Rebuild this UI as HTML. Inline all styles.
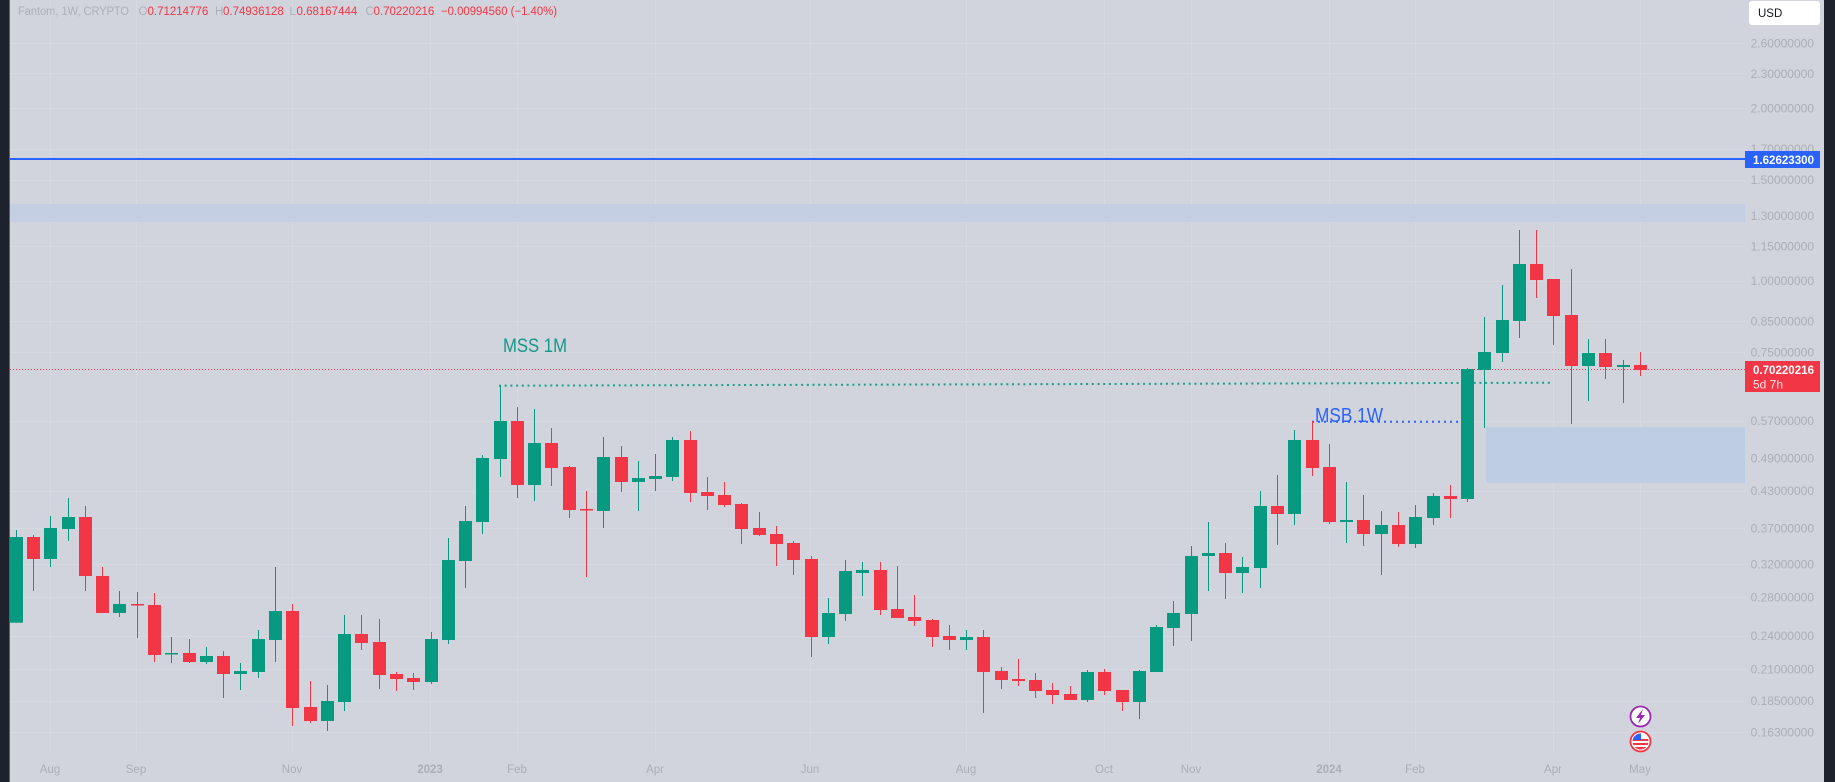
<!DOCTYPE html>
<html><head><meta charset="utf-8"><style>
html,body{margin:0;padding:0;background:#d1d4dc;}
svg{display:block;}
text{font-family:"Liberation Sans",sans-serif;}
.g{fill:#089981}.r{fill:#f23645}
.pl{font-size:12px;fill:#abaeb7;text-anchor:end}
.xl{font-size:11.5px;fill:#abaeb7;text-anchor:middle}
</style></head><body>
<svg width="1835" height="782" viewBox="0 0 1835 782" xmlns="http://www.w3.org/2000/svg">
<rect x="0" y="0" width="1835" height="782" fill="#d1d4dc"/>
<!-- grid -->
<g fill="#d6d9e0">
<rect x="10" y="43" width="1735" height="1"/><rect x="10" y="73" width="1735" height="1"/><rect x="10" y="108" width="1735" height="1"/><rect x="10" y="149" width="1735" height="1"/><rect x="10" y="180" width="1735" height="1"/><rect x="10" y="246" width="1735" height="1"/><rect x="10" y="281" width="1735" height="1"/><rect x="10" y="321" width="1735" height="1"/><rect x="10" y="352" width="1735" height="1"/><rect x="10" y="421" width="1735" height="1"/><rect x="10" y="491" width="1735" height="1"/><rect x="10" y="528" width="1735" height="1"/><rect x="10" y="564" width="1735" height="1"/><rect x="10" y="597" width="1735" height="1"/><rect x="10" y="636" width="1735" height="1"/><rect x="10" y="669" width="1735" height="1"/><rect x="10" y="701" width="1735" height="1"/><rect x="10" y="732" width="1735" height="1"/>
<rect x="50" y="0" width="1" height="752"/><rect x="136" y="0" width="1" height="752"/><rect x="292" y="0" width="1" height="752"/><rect x="430" y="0" width="1" height="752"/><rect x="517" y="0" width="1" height="752"/><rect x="655" y="0" width="1" height="752"/><rect x="810" y="0" width="1" height="752"/><rect x="966" y="0" width="1" height="752"/><rect x="1104" y="0" width="1" height="752"/><rect x="1191" y="0" width="1" height="752"/><rect x="1329" y="0" width="1" height="752"/><rect x="1415" y="0" width="1" height="752"/><rect x="1553" y="0" width="1" height="752"/><rect x="1640" y="0" width="1" height="752"/>
</g>
<!-- zones -->
<rect x="10" y="204" width="1735" height="18" fill="#c4cfe3"/>
<rect x="1486" y="427" width="259" height="56" fill="#bfcde4"/>
<!-- blue horizontal line -->
<rect x="10" y="158" width="1735" height="2" fill="#2962ff"/>
<!-- current price dotted line -->
<line x1="10" y1="369.5" x2="1745" y2="369.5" stroke="#f23645" stroke-width="1" stroke-dasharray="1 2"/>
<!-- MSS green dotted line -->
<line x1="499" y1="385.7" x2="1552" y2="382.7" stroke="#14a08a" stroke-width="2" stroke-dasharray="2 3.7"/>
<!-- MSB blue dotted line -->
<line x1="1312" y1="421.7" x2="1458" y2="421.7" stroke="#2962ff" stroke-width="2" stroke-dasharray="2 4"/>
<!-- candles -->
<g>
<rect class="g" x="16" y="530" width="1" height="92.7"/><rect class="g" x="10" y="537" width="13" height="85.7"/>
<rect class="r" x="33" y="535" width="1" height="56"/><rect class="r" x="27" y="537" width="13" height="22"/>
<rect class="g" x="50" y="516" width="1" height="51"/><rect class="g" x="44" y="528" width="13" height="31"/>
<rect class="g" x="68" y="498" width="1" height="43"/><rect class="g" x="62" y="517" width="13" height="12"/>
<rect class="r" x="85" y="506" width="1" height="85"/><rect class="r" x="79" y="517" width="13" height="59"/>
<rect class="r" x="102" y="567" width="1" height="46"/><rect class="r" x="96" y="576" width="13" height="37"/>
<rect class="g" x="119" y="591" width="1" height="26"/><rect class="g" x="113" y="604" width="13" height="9"/>
<rect class="r" x="137" y="592" width="1" height="46"/><rect class="r" x="131" y="604" width="13" height="1.5"/>
<rect class="r" x="154" y="593" width="1" height="69"/><rect class="r" x="148" y="605" width="13" height="50"/>
<rect class="g" x="171" y="637" width="1" height="26"/><rect class="g" x="165" y="653" width="13" height="1.5"/>
<rect class="r" x="189" y="639" width="1" height="24"/><rect class="r" x="183" y="653" width="13" height="9"/>
<rect class="g" x="206" y="647" width="1" height="17"/><rect class="g" x="200" y="656" width="13" height="6"/>
<rect class="r" x="223" y="651" width="1" height="47"/><rect class="r" x="217" y="656" width="13" height="18"/>
<rect class="g" x="240" y="663" width="1" height="27"/><rect class="g" x="234" y="671" width="13" height="3"/>
<rect class="g" x="258" y="630" width="1" height="48"/><rect class="g" x="252" y="639" width="13" height="33"/>
<rect class="g" x="275" y="567" width="1" height="95"/><rect class="g" x="269" y="611" width="13" height="29"/>
<rect class="r" x="292" y="604" width="1" height="122"/><rect class="r" x="286" y="611" width="13" height="97"/>
<rect class="r" x="310" y="681" width="1" height="42"/><rect class="r" x="304" y="707" width="13" height="14"/>
<rect class="g" x="327" y="685" width="1" height="46"/><rect class="g" x="321" y="701" width="13" height="20"/>
<rect class="g" x="344" y="615" width="1" height="96"/><rect class="g" x="338" y="634" width="13" height="68"/>
<rect class="r" x="361" y="615" width="1" height="35"/><rect class="r" x="355" y="634" width="13" height="9"/>
<rect class="r" x="379" y="619" width="1" height="70"/><rect class="r" x="373" y="642" width="13" height="33"/>
<rect class="r" x="396" y="672" width="1" height="19"/><rect class="r" x="390" y="674" width="13" height="5"/>
<rect class="r" x="413" y="673" width="1" height="17"/><rect class="r" x="407" y="678" width="13" height="4"/>
<rect class="g" x="431" y="632" width="1" height="52"/><rect class="g" x="425" y="639" width="13" height="43"/>
<rect class="g" x="448" y="538" width="1" height="106"/><rect class="g" x="442" y="560" width="13" height="80"/>
<rect class="g" x="465" y="506" width="1" height="82"/><rect class="g" x="459" y="521" width="13" height="40"/>
<rect class="g" x="482" y="455" width="1" height="79"/><rect class="g" x="476" y="458" width="13" height="64"/>
<rect class="g" x="500" y="386" width="1" height="91"/><rect class="g" x="494" y="421" width="13" height="38"/>
<rect class="r" x="517" y="407" width="1" height="91"/><rect class="r" x="511" y="421" width="13" height="64"/>
<rect class="g" x="534" y="409" width="1" height="92"/><rect class="g" x="528" y="443" width="13" height="42"/>
<rect class="r" x="551" y="428" width="1" height="58"/><rect class="r" x="545" y="443" width="13" height="25"/>
<rect class="r" x="569" y="466" width="1" height="52"/><rect class="r" x="563" y="467" width="13" height="43"/>
<rect class="r" x="586" y="491" width="1" height="86"/><rect class="r" x="580" y="509" width="13" height="1.5"/>
<rect class="g" x="603" y="437" width="1" height="91"/><rect class="g" x="597" y="457" width="13" height="54"/>
<rect class="r" x="621" y="446" width="1" height="46"/><rect class="r" x="615" y="457" width="13" height="25"/>
<rect class="g" x="638" y="461" width="1" height="50"/><rect class="g" x="632" y="478" width="13" height="4"/>
<rect class="g" x="655" y="454" width="1" height="37"/><rect class="g" x="649" y="476" width="13" height="3"/>
<rect class="g" x="672" y="437" width="1" height="44"/><rect class="g" x="666" y="440" width="13" height="37"/>
<rect class="r" x="690" y="431" width="1" height="71"/><rect class="r" x="684" y="440" width="13" height="53"/>
<rect class="r" x="707" y="477" width="1" height="33"/><rect class="r" x="701" y="492" width="13" height="4"/>
<rect class="r" x="724" y="482" width="1" height="25"/><rect class="r" x="718" y="495" width="13" height="10"/>
<rect class="r" x="741" y="503" width="1" height="41"/><rect class="r" x="735" y="504" width="13" height="25"/>
<rect class="r" x="759" y="512" width="1" height="24"/><rect class="r" x="753" y="528" width="13" height="7"/>
<rect class="r" x="776" y="526" width="1" height="40"/><rect class="r" x="770" y="534" width="13" height="10"/>
<rect class="r" x="793" y="541" width="1" height="34"/><rect class="r" x="787" y="543" width="13" height="17"/>
<rect class="r" x="811" y="556" width="1" height="101"/><rect class="r" x="805" y="559" width="13" height="78"/>
<rect class="g" x="828" y="598" width="1" height="46"/><rect class="g" x="822" y="613" width="13" height="24"/>
<rect class="g" x="845" y="560" width="1" height="61"/><rect class="g" x="839" y="571" width="13" height="43"/>
<rect class="g" x="862" y="562" width="1" height="34"/><rect class="g" x="856" y="570" width="13" height="3"/>
<rect class="r" x="880" y="562" width="1" height="53"/><rect class="r" x="874" y="570" width="13" height="40"/>
<rect class="r" x="897" y="566" width="1" height="52"/><rect class="r" x="891" y="609" width="13" height="9"/>
<rect class="r" x="914" y="595" width="1" height="31"/><rect class="r" x="908" y="617" width="13" height="4"/>
<rect class="r" x="932" y="619" width="1" height="28"/><rect class="r" x="926" y="620" width="13" height="17"/>
<rect class="r" x="949" y="625" width="1" height="25"/><rect class="r" x="943" y="636" width="13" height="4"/>
<rect class="g" x="966" y="630" width="1" height="20"/><rect class="g" x="960" y="637" width="13" height="3"/>
<rect class="r" x="983" y="630" width="1" height="83"/><rect class="r" x="977" y="637" width="13" height="35"/>
<rect class="r" x="1001" y="667" width="1" height="22"/><rect class="r" x="995" y="671" width="13" height="9"/>
<rect class="r" x="1018" y="659" width="1" height="27"/><rect class="r" x="1012" y="679" width="13" height="2"/>
<rect class="r" x="1035" y="673" width="1" height="25"/><rect class="r" x="1029" y="680" width="13" height="11"/>
<rect class="r" x="1052" y="683" width="1" height="21"/><rect class="r" x="1046" y="690" width="13" height="5"/>
<rect class="r" x="1070" y="686" width="1" height="14"/><rect class="r" x="1064" y="694" width="13" height="6"/>
<rect class="g" x="1087" y="670" width="1" height="32"/><rect class="g" x="1081" y="672" width="13" height="28"/>
<rect class="r" x="1104" y="669" width="1" height="26"/><rect class="r" x="1098" y="672" width="13" height="19"/>
<rect class="r" x="1122" y="690" width="1" height="21"/><rect class="r" x="1116" y="690" width="13" height="12"/>
<rect class="g" x="1139" y="670" width="1" height="49"/><rect class="g" x="1133" y="671" width="13" height="31"/>
<rect class="g" x="1156" y="625" width="1" height="47"/><rect class="g" x="1150" y="627" width="13" height="45"/>
<rect class="g" x="1173" y="601" width="1" height="45"/><rect class="g" x="1167" y="613" width="13" height="15"/>
<rect class="g" x="1191" y="546" width="1" height="95"/><rect class="g" x="1185" y="556" width="13" height="58"/>
<rect class="g" x="1208" y="522" width="1" height="69"/><rect class="g" x="1202" y="553" width="13" height="3"/>
<rect class="r" x="1225" y="543" width="1" height="56"/><rect class="r" x="1219" y="553" width="13" height="20"/>
<rect class="g" x="1242" y="557" width="1" height="36"/><rect class="g" x="1236" y="567" width="13" height="6"/>
<rect class="g" x="1260" y="491" width="1" height="97"/><rect class="g" x="1254" y="506" width="13" height="62"/>
<rect class="r" x="1277" y="475" width="1" height="70"/><rect class="r" x="1271" y="506" width="13" height="8"/>
<rect class="g" x="1294" y="430" width="1" height="95"/><rect class="g" x="1288" y="440" width="13" height="74"/>
<rect class="r" x="1312" y="421" width="1" height="55"/><rect class="r" x="1306" y="440" width="13" height="28"/>
<rect class="r" x="1329" y="444" width="1" height="80"/><rect class="r" x="1323" y="467" width="13" height="55"/>
<rect class="g" x="1346" y="482" width="1" height="61"/><rect class="g" x="1340" y="520" width="13" height="2"/>
<rect class="r" x="1363" y="495" width="1" height="51"/><rect class="r" x="1357" y="520" width="13" height="14"/>
<rect class="g" x="1381" y="511" width="1" height="64"/><rect class="g" x="1375" y="525" width="13" height="9"/>
<rect class="r" x="1398" y="512" width="1" height="35"/><rect class="r" x="1392" y="525" width="13" height="19"/>
<rect class="g" x="1415" y="505" width="1" height="43"/><rect class="g" x="1409" y="517" width="13" height="27"/>
<rect class="g" x="1433" y="493" width="1" height="32"/><rect class="g" x="1427" y="496" width="13" height="22"/>
<rect class="r" x="1450" y="485" width="1" height="33"/><rect class="r" x="1444" y="496" width="13" height="3"/>
<rect class="g" x="1467" y="368" width="1" height="134"/><rect class="g" x="1461" y="369" width="13" height="130"/>
<rect class="g" x="1484" y="317" width="1" height="111"/><rect class="g" x="1478" y="352" width="13" height="18"/>
<rect class="g" x="1502" y="285" width="1" height="77"/><rect class="g" x="1496" y="320" width="13" height="33"/>
<rect class="g" x="1519" y="230" width="1" height="108"/><rect class="g" x="1513" y="264" width="13" height="57"/>
<rect class="r" x="1536" y="230" width="1" height="68"/><rect class="r" x="1530" y="264" width="13" height="16"/>
<rect class="r" x="1553" y="279" width="1" height="66"/><rect class="r" x="1547" y="279" width="13" height="37"/>
<rect class="r" x="1571" y="269" width="1" height="155"/><rect class="r" x="1565" y="315" width="13" height="51"/>
<rect class="g" x="1588" y="339" width="1" height="62"/><rect class="g" x="1582" y="353" width="13" height="13"/>
<rect class="r" x="1605" y="339" width="1" height="40"/><rect class="r" x="1599" y="353" width="13" height="14"/>
<rect class="g" x="1623" y="360" width="1" height="43"/><rect class="g" x="1617" y="365" width="13" height="2"/>
<rect class="r" x="1640" y="352" width="1" height="24"/><rect class="r" x="1634" y="365" width="13" height="5"/>
</g>
<!-- annotations text -->
<text x="503" y="352" font-size="19.5" fill="#13998a" textLength="64" lengthAdjust="spacingAndGlyphs">MSS 1M</text>
<text x="1315" y="422" font-size="20" fill="#2962ff" textLength="68" lengthAdjust="spacingAndGlyphs">MSB 1W</text>
<!-- header -->
<g font-size="11.5">
<text x="18" y="15" fill="#adb0b8" textLength="111" lengthAdjust="spacingAndGlyphs">Fantom, 1W, CRYPTO</text>
<text x="138.5" y="15" fill="#adb0b8">O</text><text x="147.5" y="15" fill="#f23645">0.71214776</text>
<text x="215" y="15" fill="#adb0b8">H</text><text x="223" y="15" fill="#f23645">0.74936128</text>
<text x="289.5" y="15" fill="#adb0b8">L</text><text x="296.5" y="15" fill="#f23645">0.68167444</text>
<text x="365.5" y="15" fill="#adb0b8">C</text><text x="373.5" y="15" fill="#f23645">0.70220216</text>
<text x="441" y="15" fill="#f23645" textLength="116" lengthAdjust="spacingAndGlyphs">−0.00994560 (−1.40%)</text>
</g>
<!-- price labels -->
<g class="pl">
<text x="1814" y="47.5" class="pl">2.60000000</text>
<text x="1814" y="78" class="pl">2.30000000</text>
<text x="1814" y="112.5" class="pl">2.00000000</text>
<text x="1814" y="153" class="pl">1.70000000</text>
<text x="1814" y="184" class="pl">1.50000000</text>
<text x="1814" y="220" class="pl">1.30000000</text>
<text x="1814" y="250.5" class="pl">1.15000000</text>
<text x="1814" y="285" class="pl">1.00000000</text>
<text x="1814" y="325.5" class="pl">0.85000000</text>
<text x="1814" y="356.5" class="pl">0.75000000</text>
<text x="1814" y="425" class="pl">0.57000000</text>
<text x="1814" y="462.5" class="pl">0.49000000</text>
<text x="1814" y="495" class="pl">0.43000000</text>
<text x="1814" y="532.5" class="pl">0.37000000</text>
<text x="1814" y="568.5" class="pl">0.32000000</text>
<text x="1814" y="601.5" class="pl">0.28000000</text>
<text x="1814" y="640" class="pl">0.24000000</text>
<text x="1814" y="673.5" class="pl">0.21000000</text>
<text x="1814" y="705" class="pl">0.18500000</text>
<text x="1814" y="736.5" class="pl">0.16300000</text>
</g>
<!-- price tags -->
<rect x="1745" y="151" width="75" height="17" fill="#2962ff"/>
<text x="1753" y="164" font-size="12" font-weight="bold" fill="#ffffff" textLength="61" lengthAdjust="spacingAndGlyphs">1.62623300</text>
<rect x="1745" y="361" width="75" height="31" fill="#f23645"/>
<text x="1753" y="374" font-size="12" font-weight="bold" fill="#ffffff" textLength="61" lengthAdjust="spacingAndGlyphs">0.70220216</text>
<text x="1753" y="388.5" font-size="12" fill="#ffffff" opacity="0.85">5d 7h</text>
<!-- USD button -->
<rect x="1749" y="1" width="71" height="24" rx="3" fill="#ffffff"/>
<text x="1758" y="17" font-size="11.5" fill="#131722">USD</text>
<!-- time labels -->
<g>
<text x="50" y="773" class="xl">Aug</text>
<text x="136" y="773" class="xl">Sep</text>
<text x="292" y="773" class="xl">Nov</text>
<text x="430" y="773" class="xl" font-weight="bold">2023</text>
<text x="517" y="773" class="xl">Feb</text>
<text x="655" y="773" class="xl">Apr</text>
<text x="810" y="773" class="xl">Jun</text>
<text x="966" y="773" class="xl">Aug</text>
<text x="1104" y="773" class="xl">Oct</text>
<text x="1191" y="773" class="xl">Nov</text>
<text x="1329" y="773" class="xl" font-weight="bold">2024</text>
<text x="1415" y="773" class="xl">Feb</text>
<text x="1553" y="773" class="xl">Apr</text>
<text x="1640" y="773" class="xl">May</text>
</g>
<!-- icons -->
<circle cx="1640.5" cy="716.5" r="10" fill="#ffffff" stroke="#9c27b0" stroke-width="1.8"/>
<polygon points="1643,709 1636,718 1640,718 1638,724 1645,715 1641,715" fill="#9c27b0"/>
<circle cx="1640.5" cy="741.5" r="10" fill="#ffffff" stroke="#f23645" stroke-width="1.8"/>
<clipPath id="fc"><circle cx="1640.5" cy="741.5" r="8"/></clipPath>
<g clip-path="url(#fc)">
<rect x="1632" y="733" width="17" height="17" fill="#ffffff"/>
<rect x="1632" y="739" width="17" height="2" fill="#f23645"/>
<rect x="1632" y="743" width="17" height="2" fill="#f23645"/>
<rect x="1632" y="747" width="17" height="3" fill="#f23645"/>
<rect x="1632" y="733" width="9" height="7" fill="#2962ff"/>
</g>
<!-- borders -->
<rect x="0" y="0" width="9" height="782" fill="#1e222d"/>
<rect x="9" y="0" width="1" height="782" fill="#5d606b"/>
<rect x="1824" y="0" width="11" height="782" fill="#1e222d"/>
</svg>
</body></html>
